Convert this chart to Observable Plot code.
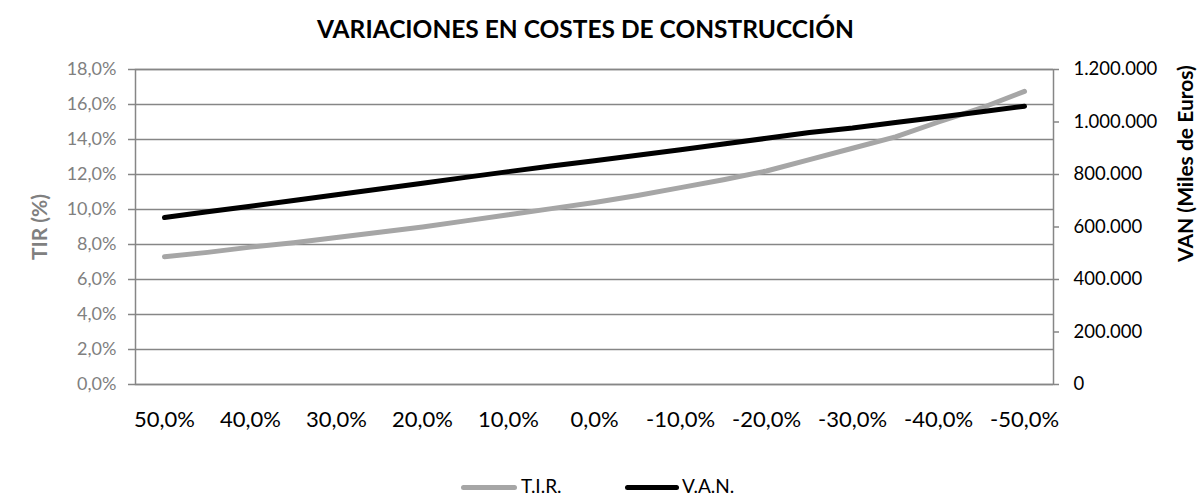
<!DOCTYPE html>
<html>
<head>
<meta charset="utf-8">
<script src="https://cdn.jsdelivr.net/npm/d3@7"></script>
<script src="https://cdn.jsdelivr.net/npm/@observablehq/plot@0.6"></script>
<style>
  html, body { margin: 0; padding: 0; background: #fff; }
  #wrap { position: relative; width: 1198px; height: 496px; font-family: Lato, "Open Sans", sans-serif; }
  #title { height: 50px; box-sizing: border-box; padding-top: 17px; line-height: 24px; font-size: 24.5px; font-weight: bold; text-align: center; color: #000; padding-right: 27px; }
  #chart svg { display: block; }
  #legend { position: relative; height: 36px; font-size: 19px; color: #000; }
  .sw { position: absolute; top: 25px; height: 5px; border-radius: 3px; }
  .lt { position: absolute; top: 15px; line-height: 22px; }
</style>
</head>
<body>
<div id="wrap">
  <div id="title">VARIACIONES EN COSTES DE CONSTRUCCIÓN</div>
  <div id="chart"></div>
  <div id="legend"></div>
</div>
<script>
// Variación en costes de construcción (%)
const cambios = [50,45,40,35,30,25,20,15,10,5,0,-5,-10,-15,-20,-25,-30,-35,-40,-45,-50];
// T.I.R. (%)
const tir = [7.3,7.55,7.85,8.1,8.4,8.7,9.0,9.35,9.7,10.05,10.4,10.8,11.25,11.7,12.2,12.85,13.5,14.15,15.0,15.8,16.75];
// V.A.N. (Miles de Euros)
const van = [636000,658000,679000,701000,723000,745000,767000,789000,811000,832000,852000,873000,894000,916000,938000,960000,977000,998000,1018000,1039000,1060000];
// Tick values
const tirTicks = [0,2,4,6,8,10,12,14,16,18];
const vanTicks = [0,200000,400000,600000,800000,1000000,1200000];
const xTicks = [50,40,30,20,10,0,-10,-20,-30,-40,-50];
const seriesNames = ["T.I.R.", "V.A.N."];
const seriesColors = ["#a6a6a6", "#000000"];

const data = cambios.map((c, i) => ({cambio: c, tir: tir[i], van: van[i]}));
const k = 18 / 1200000; // VAN -> TIR scale mapping (secondary axis)
const es = d3.formatLocale({decimal: ",", thousands: ".", grouping: [3], currency: ["", " €"]});
const fmtVan = es.format(",");
const fmtPct = v => v.toFixed(1).replace(".", ",") + "%";
const grid = "#868686";

const chart = Plot.plot({
  width: 1198,
  height: 410,
  marginTop: 19,
  marginBottom: 76,
  marginLeft: 135,
  marginRight: 145,
  style: {fontFamily: "Lato, 'Open Sans', sans-serif", background: "white", overflow: "visible"},
  x: {type: "point", domain: cambios, padding: 0.5},
  y: {domain: [0, 18]},
  marks: [
    Plot.ruleY(tirTicks, {stroke: grid, strokeWidth: 1.5}),
    Plot.frame({stroke: grid, strokeWidth: 1.5}),
    Plot.axisY(tirTicks, {anchor: "left", tickSize: 7, tickPadding: 12, stroke: grid, strokeWidth: 1.5,
      fill: "#808080", fontSize: 18, tickFormat: fmtPct, label: null}),
    Plot.axisY(vanTicks.map(v => v * k), {anchor: "right", tickSize: 5, tickPadding: 15, stroke: grid, strokeWidth: 1.5,
      fill: "#000", fontSize: 18.5, tickFormat: v => fmtVan(Math.round(v / k)), label: null}),
    Plot.axisX(xTicks, {anchor: "bottom", tickSize: 0, tickPadding: 27, fill: "#000", fontSize: 22,
      tickFormat: fmtPct, label: null}),
    Plot.line(data, {x: "cambio", y: "tir", stroke: seriesColors[0], strokeWidth: 5, strokeLinecap: "round", strokeLinejoin: "round"}),
    Plot.line(data, {x: "cambio", y: d => d.van * k, stroke: seriesColors[1], strokeWidth: 5, strokeLinecap: "round", strokeLinejoin: "round"}),
    Plot.text(["TIR (%)"], {frameAnchor: "left", dx: -95, rotate: -90, textAnchor: "middle", lineAnchor: "middle",
      fontSize: 21, fontWeight: "bold", fill: "#808080"}),
    Plot.text(["VAN (Miles de Euros)"], {frameAnchor: "top-right", dx: 133, dy: 94, rotate: -90, textAnchor: "middle", lineAnchor: "middle",
      fontSize: 21, fontWeight: "bold", fill: "#000"})
  ]
});
document.getElementById("chart").appendChild(chart);

// Legend
const legend = document.getElementById("legend");
const pos = [{sw: 461, w: 56, t: 521}, {sw: 625, w: 54, t: 682}];
seriesNames.forEach((n, i) => {
  const s = document.createElement("div");
  s.className = "sw";
  s.style.left = pos[i].sw + "px";
  s.style.width = pos[i].w + "px";
  s.style.background = seriesColors[i];
  legend.appendChild(s);
  const t = document.createElement("div");
  t.className = "lt";
  t.style.left = pos[i].t + "px";
  t.textContent = n;
  legend.appendChild(t);
});
</script>
</body>
</html>
